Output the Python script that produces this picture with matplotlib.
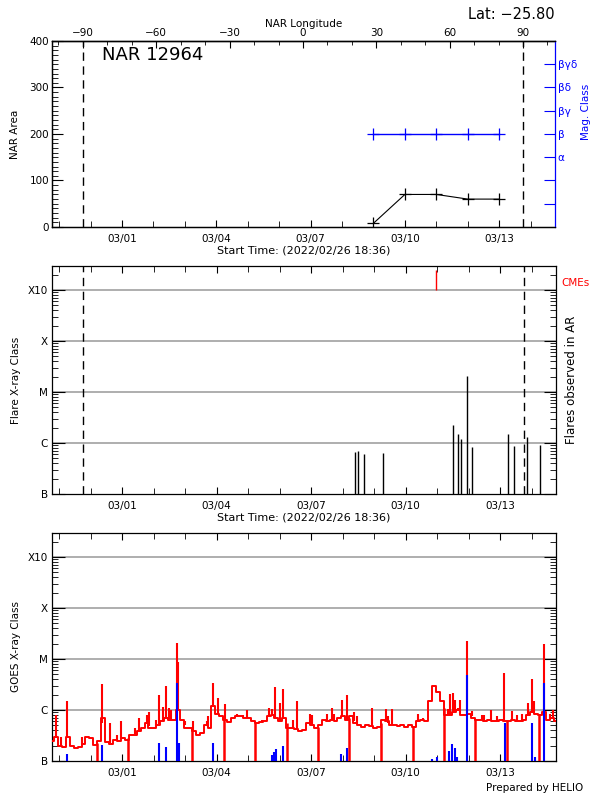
import datetime

import matplotlib
matplotlib.use("Agg")
import matplotlib.dates as mdates
import matplotlib.pyplot as plt
import matplotlib.ticker as ticker
import numpy as np

start_time = datetime.datetime(2022, 2, 26, 18, 36)
end_time = start_time + datetime.timedelta(days=16)

nar_number = "12964"
nar_latitude = -25.80
limb_times = ["2022-02-27 18:12", "2022-03-13 18:12"]

nar_dates = ["2022-03-09", "2022-03-10", "2022-03-11", "2022-03-12", "2022-03-13"]
nar_area = [8, 70, 70, 60, 60]
nar_mag_class = ["β", "β", "β", "β", "β"]
mag_class_names = ["", "", "α", "β", "βγ", "βδ", "βγδ"]
mag_class_levels = [50, 100, 150, 200, 250, 300, 350]

flare_times = [
    "2022-03-08 09:42", "2022-03-08 12:00", "2022-03-08 16:30", "2022-03-09 07:00",
    "2022-03-11 11:54", "2022-03-11 16:12", "2022-03-11 18:24", "2022-03-11 23:00",
    "2022-03-12 02:48", "2022-03-13 06:18", "2022-03-13 10:48", "2022-03-13 20:18",
    "2022-03-14 06:24",
]
flare_classes = [
    "B6.8", "B7.1", "B6.2", "B6.5", "C2.3", "C1.5", "C1.2", "M2.1",
    "B8.5", "C1.5", "B8.7", "C1.3", "B9.1",
]
cme_times = ["2022-03-10 22:54"]

# GOES 1-8 A background, one value every 3 hours from start (units of 1e-6 W/m2)
goes_step_hours = 3
goes_long = [
    0.25, 0.30, 0.20, 0.19, 0.30, 0.20, 0.18, 0.19, 0.22, 0.29,
    0.28, 0.21, 0.25, 0.70, 0.24, 0.22, 0.26, 0.25, 0.28, 0.26,
    0.32, 0.33, 0.38, 0.45, 0.55, 0.45, 0.45, 0.50, 0.60, 0.70,
    0.65, 0.65, 1.00, 0.65, 0.45, 0.45, 0.38, 0.33, 0.36, 0.50,
    0.45, 1.20, 0.85, 0.75, 0.65, 0.58, 0.70, 0.75, 0.75, 0.70,
    0.70, 0.60, 0.55, 0.58, 0.62, 0.75, 0.80, 0.70, 0.60, 0.70,
    0.45, 0.45, 0.42, 0.38, 0.40, 0.55, 0.50, 0.45, 0.50, 0.65,
    0.62, 0.65, 0.62, 0.70, 0.75, 0.65, 0.75, 0.55, 0.50, 0.47,
    0.50, 0.48, 0.45, 0.47, 0.65, 0.60, 0.50, 0.50, 0.48, 0.50,
    0.47, 0.50, 0.47, 0.62, 0.65, 0.60, 1.50, 3.00, 2.30, 1.50,
    0.80, 0.80, 0.90, 1.00, 0.80, 0.80, 0.85, 0.70, 0.65, 0.65,
    0.60, 0.65, 0.60, 0.60, 0.65, 0.62, 0.62, 0.65, 0.60, 0.60,
    0.65, 0.80, 0.90, 0.85, 0.80, 0.90, 0.65, 0.70, 0.60,
]
goes_spike_hours = [
    3.0, 7.2, 11.7, 22.6, 29.0, 38.1, 44.2, 49.3, 52.6, 63.2,
    66.3, 72.2, 73.9, 79.2, 81.8, 84.8, 86.9, 89.4, 90.4, 95.0,
    96.0, 101.3, 107.7, 117.9, 119.1, 123.0, 126.7, 131.8, 140.7, 145.8,
    148.3, 159.8, 165.3, 167.4, 169.9, 173.7, 176.2, 183.8, 186.4, 196.6,
    198.3, 209.3, 213.1, 215.1, 220.7, 225.0, 230.1, 232.2, 244.0, 254.2,
    256.2, 258.8, 279.1, 282.9, 301.5, 303.2, 305.3, 307.0, 309.6, 310.9,
    316.4, 319.8, 327.4, 329.1, 334.5, 338.8, 344.6, 350.2, 354.0, 357.9,
    362.9, 365.5, 367.5, 374.9, 379.4, 381.9,
]
goes_spike_values = [
    0.8, 0.3, 1.5, 0.3, 0.3, 3.2, 0.55, 0.32, 0.6, 0.45,
    0.7, 0.8, 0.9, 0.65, 2.0, 1.15, 3.0, 1.1, 1.0, 21.0,
    8.7, 0.6, 0.6, 0.6, 0.75, 3.4, 1.7, 1.3, 0.85, 0.8,
    1.0, 0.65, 1.1, 1.05, 2.8, 1.35, 2.6, 0.65, 1.5, 0.85,
    0.8, 0.85, 1.1, 0.85, 1.6, 2.0, 0.9, 0.75, 1.1, 1.05,
    0.75, 1.05, 0.85, 0.7, 1.05, 2.1, 2.2, 1.6, 1.1, 1.6,
    23.0, 0.95, 0.8, 0.8, 1.0, 0.75, 5.3, 0.95, 0.8, 0.85,
    1.4, 4.0, 1.5, 20.0, 0.85, 1.0,
]
goes_gap_hours = [
    34.3, 57.9, 106.4, 131.0, 154.6, 178.7, 202.3, 226.4, 250.5, 274.7,
    298.7, 322.6, 346.3, 371.0,
]
# GOES 0.5-4 A, only where above B1
goes_short_hours = [
    11.7, 38.3, 81.8, 86.9, 95.0, 96.8, 123.0, 167.6, 169.1, 170.3,
    176.2, 220.4, 225.0, 289.7, 293.6, 302.7, 305.0, 307.0, 308.8, 316.4,
    345.1, 365.9, 368.0, 374.9,
]
goes_short_values = [
    0.14, 0.21, 0.23, 0.19, 3.4, 0.23, 0.23, 0.13, 0.15, 0.17,
    0.2, 0.14, 0.18, 0.11, 0.12, 0.16, 0.22, 0.18, 0.12, 4.9,
    0.55, 0.55, 0.12, 3.4,
]

class_ticks = [1e-7, 1e-6, 1e-5, 1e-4, 1e-3]
class_labels = ["B", "C", "M", "X", "X10"]


def class_to_flux(name):
    scale = {"A": 1e-8, "B": 1e-7, "C": 1e-6, "M": 1e-5, "X": 1e-4}
    return scale[name[0]] * float(name[1:])


def hours_to_time(hours):
    return [start_time + datetime.timedelta(hours=float(h)) for h in hours]


def parse(strings):
    return [datetime.datetime.fromisoformat(s) for s in strings]


def style_time_axis(ax, top=True):
    ax.set_xlim(start_time, end_time)
    ax.xaxis.set_major_locator(mdates.DayLocator(bymonthday=[1, 4, 7, 10, 13]))
    ax.xaxis.set_minor_locator(mdates.DayLocator())
    ax.xaxis.set_major_formatter(mdates.DateFormatter("%m/%d"))
    ax.tick_params(axis="x", which="both", direction="in", top=top, labelsize=7.5, pad=5)
    ax.tick_params(axis="x", which="major", length=5)
    ax.tick_params(axis="x", which="minor", length=4)


def style_class_axis(ax):
    ax.set_yscale("log")
    ax.set_ylim(1e-7, 10 ** -2.53)
    ax.set_yticks(class_ticks)
    ax.set_yticklabels(class_labels)
    ax.yaxis.set_minor_locator(ticker.LogLocator(base=10, subs=np.arange(2, 10)))
    ax.yaxis.set_minor_formatter(ticker.NullFormatter())
    ax.tick_params(axis="y", which="both", direction="in", right=True, labelsize=7.5, pad=3)
    ax.tick_params(axis="y", which="major", length=9)
    ax.tick_params(axis="y", which="minor", length=4)
    for level in class_ticks[1:]:
        ax.axhline(level, color="#999999", lw=1.1, zorder=1)


plt.rcParams["font.family"] = ["DejaVu Sans"]
plt.rcParams["axes.linewidth"] = 0.9

fig = plt.figure(figsize=(6, 8), dpi=100)
ax1 = fig.add_axes([0.0867, 0.71625, 0.8383, 0.2325])
ax2 = fig.add_axes([0.0867, 0.3825, 0.84, 0.285])
ax3 = fig.add_axes([0.0867, 0.04875, 0.84, 0.285])

limbs = parse(limb_times)

# ---- panel 1: NAR area and magnetic class
nar_days = parse(nar_dates)
ax1.plot(nar_days, nar_area, color="black", lw=0.8, marker="+", ms=9, mew=0.9)
ax1.set_ylim(0, 400)
ax1.yaxis.set_major_locator(ticker.MultipleLocator(100))
ax1.yaxis.set_minor_locator(ticker.MultipleLocator(10))
ax1.tick_params(axis="y", which="both", direction="in", right=False, labelsize=7.5, pad=2)
ax1.tick_params(axis="y", which="major", length=8)
ax1.tick_params(axis="y", which="minor", length=4)
ax1.set_ylabel("NAR Area", fontsize=7.5)
ax1.yaxis.set_label_coords(-0.064, 0.5)
style_time_axis(ax1, top=False)
ax1.set_xlabel("Start Time: (2022/02/26 18:36)", fontsize=8, labelpad=1)
ax1.spines["right"].set_visible(False)
for limb in limbs:
    ax1.axvline(limb, color="black", lw=1, ls=(0, (6, 4)))
ax1.text(0.099, 0.975, f"NAR {nar_number}", transform=ax1.transAxes,
         fontsize=13, ha="left", va="top")
ax1.text(1.0, 1.1, f"Lat: {nar_latitude:.2f}".replace("-", "\u2212"),
         transform=ax1.transAxes, fontsize=10.5, ha="right", va="bottom")

d0, d1 = mdates.date2num(limbs[0]), mdates.date2num(limbs[1])


def time_to_lon(x):
    return (np.asarray(x) - d0) / (d1 - d0) * 180.0 - 90.0


def lon_to_time(lon):
    return (np.asarray(lon) + 90.0) / 180.0 * (d1 - d0) + d0


lon_ax = ax1.secondary_xaxis("top", functions=(time_to_lon, lon_to_time))
lon_ax.set_xticks(range(-90, 91, 30))
lon_ax.xaxis.set_minor_locator(ticker.MultipleLocator(10))
lon_ax.tick_params(which="both", direction="in", labelsize=7.5, pad=2)
lon_ax.tick_params(which="major", length=5)
lon_ax.tick_params(which="minor", length=3)
lon_ax.set_xlabel("NAR Longitude", fontsize=7.5, labelpad=1)

mag_ax = ax1.twinx()
mag_ax.set_ylim(0, 400)
mag_lookup = dict(zip(mag_class_names, mag_class_levels))
mag_ax.plot(nar_days, [mag_lookup[c] for c in nar_mag_class], color="blue",
            lw=1, marker="+", ms=9, mew=0.9)
mag_ax.set_yticks(mag_class_levels)
mag_ax.set_yticklabels(mag_class_names)
mag_ax.tick_params(axis="y", direction="in", length=8, colors="blue", labelsize=7.5, pad=2)
mag_ax.spines["right"].set_color("blue")
mag_ax.set_ylabel("Mag. Class", color="blue", fontsize=7.5, labelpad=8)
mag_ax.yaxis.set_label_coords(1.052, 0.62)

# ---- panel 2: flares and CMEs
style_class_axis(ax2)
style_time_axis(ax2)
ax2.vlines(parse(flare_times), 1e-7, [class_to_flux(c) for c in flare_classes],
           color="black", lw=1, zorder=3)
ax2.vlines(parse(cme_times), 1e-3, 10 ** -2.6, color="red", lw=1, zorder=3)
for limb in limbs:
    ax2.axvline(limb, color="black", lw=1, ls=(0, (6, 4)), zorder=2)
ax2.set_ylabel("Flare X-ray Class", fontsize=7.5)
ax2.yaxis.set_label_coords(-0.062, 0.5)
ax2.set_xlabel("Start Time: (2022/02/26 18:36)", fontsize=8, labelpad=1)
ax2.text(1.01, 10 ** -2.86, "CMEs", color="red", fontsize=7.5,
         transform=ax2.get_yaxis_transform(), ha="left", va="center")
ax2.text(1.031, 0.5, "Flares observed in AR", rotation=90, fontsize=8.5,
         transform=ax2.transAxes, ha="center", va="center")

# ---- panel 3: GOES X-ray flux
style_class_axis(ax3)
style_time_axis(ax3)
base_hours = np.arange(len(goes_long)) * goes_step_hours
base_flux = np.array(goes_long) * 1e-6
ax3.plot(hours_to_time(base_hours), base_flux, color="red", lw=1.4,
         drawstyle="steps-mid", zorder=3)
spike_base = np.interp(goes_spike_hours, base_hours, base_flux)
ax3.vlines(hours_to_time(goes_spike_hours), spike_base, np.array(goes_spike_values) * 1e-6,
           color="red", lw=1.5, zorder=3)
gap_base = np.interp(goes_gap_hours, base_hours, base_flux)
ax3.vlines(hours_to_time(goes_gap_hours), 1e-7, gap_base, color="red", lw=1.8, zorder=3)
ax3.vlines(hours_to_time(goes_short_hours), 1e-7, np.array(goes_short_values) * 1e-6,
           color="blue", lw=1.5, zorder=4)
ax3.set_ylabel("GOES X-ray Class", fontsize=7.5)
ax3.yaxis.set_label_coords(-0.062, 0.5)

fig.text(0.972, 0.009, "Prepared by HELIO", fontsize=7.5, ha="right", va="bottom")

fig.savefig("out.png", dpi=100)
